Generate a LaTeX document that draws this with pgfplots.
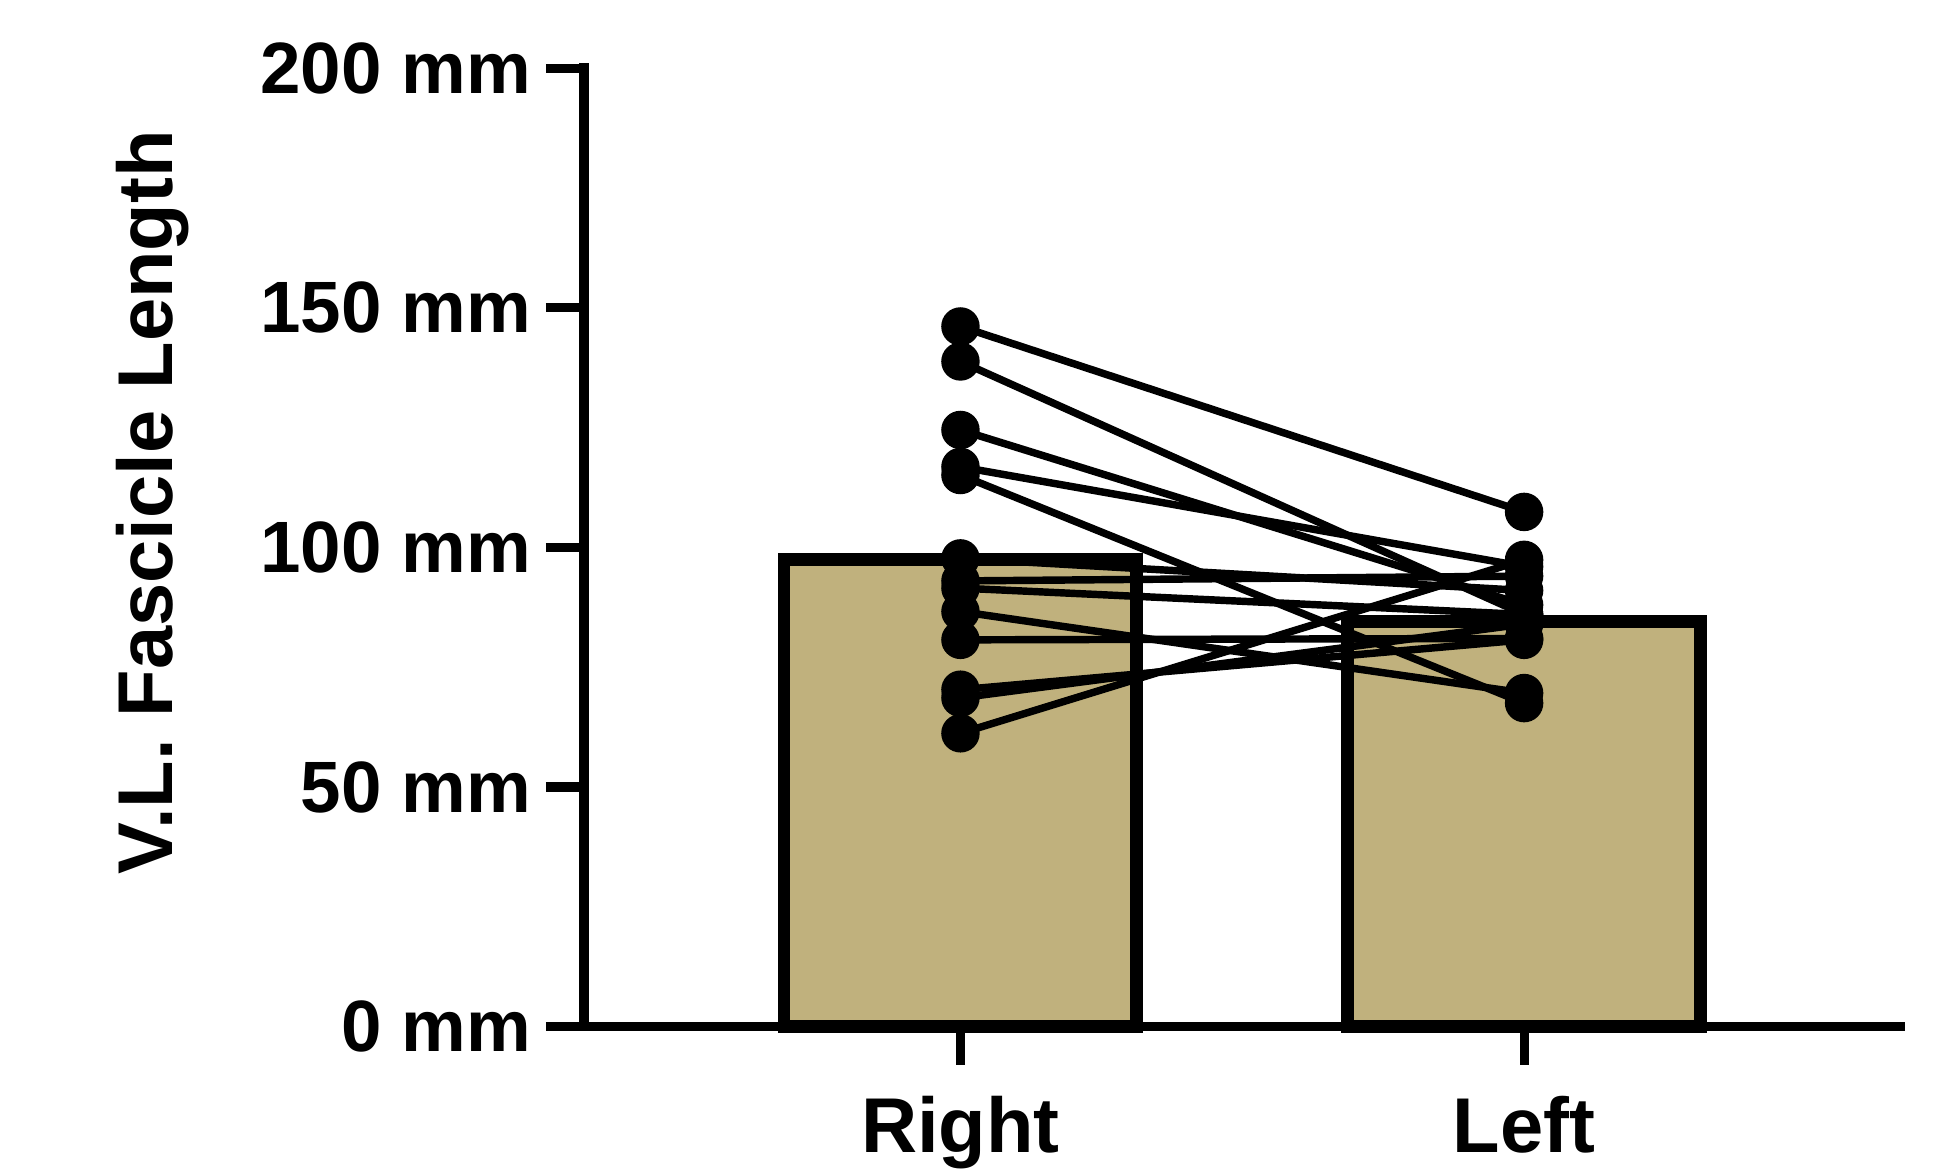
\documentclass[border=0pt]{standalone}
\usepackage{pgfplots}
\pgfplotsset{compat=1.18}
\usepackage{fontspec}
\setmainfont{Liberation Sans}
\definecolor{bartan}{RGB}{192,177,125}
\tikzset{pt/.style={black, solid, line width=1.8pt, mark=*, mark size=3.75pt, mark options={solid, fill=black, draw=black}}}
\begin{document}
\begin{tikzpicture}
\begin{axis}[name=ax,
  scale only axis, width=318.6pt, height=231.9pt,
  xmin=-0.668, xmax=1.668, ymin=0, ymax=200,
  axis x line=bottom, axis y line=left,
  axis line style={-, line width=2.3pt, line cap=rect},
  tick align=outside, tick style={line width=2.2pt, black},
  major tick length=9.2pt,
  xtick={0,1}, xticklabels={Right,Left},
  ytick={0,50,100,150,200},
  yticklabels={0 mm,50 mm,100 mm,150 mm,200 mm},
  yticklabel style={font=\fontsize{17.6}{20}\selectfont\bfseries},
  xticklabel style={font=\fontsize{18.8}{22}\selectfont\bfseries, inner sep=0pt, yshift=-7.4pt},
  ylabel={V.L. Fascicle Length},
  every axis y label/.style={at={(axis description cs:-0.3126,0.547)}, anchor=base, rotate=90, font=\fontsize{18.8}{22}\selectfont\bfseries},
  clip=false,
  /pgf/number format/assume math mode=true,
]
\addplot[ybar, bar width=0.626, fill=bartan, draw=black, line width=3.1pt, mark=none] coordinates {(0,97.5) (1,84.5)};
\addplot[pt] coordinates {(0,146.1) (1,107.4)};
\addplot[pt] coordinates {(0,138.8) (1,86.0)};
\addplot[pt] coordinates {(0,124.5) (1,88.0)};
\addplot[pt] coordinates {(0,116.8) (1,96.0)};
\addplot[pt] coordinates {(0,115.1) (1,67.5)};
\addplot[pt] coordinates {(0,97.7) (1,91.0)};
\addplot[pt] coordinates {(0,93.0) (1,94.0)};
\addplot[pt] coordinates {(0,91.5) (1,86.0)};
\addplot[pt] coordinates {(0,86.6) (1,69.6)};
\addplot[pt] coordinates {(0,80.7) (1,81.0)};
\addplot[pt] coordinates {(0,70.3) (1,80.7)};
\addplot[pt] coordinates {(0,68.6) (1,84.0)};
\addplot[pt] coordinates {(0,61.2) (1,97.4)};
\end{axis}
\path (ax.south west) ++(-141.3pt,-36pt) coordinate (bbA);
\path (ax.north east) ++(10.5pt,16.5pt) coordinate (bbB);
\path[draw=none] (bbA) rectangle (bbB);
\end{tikzpicture}
\end{document}
